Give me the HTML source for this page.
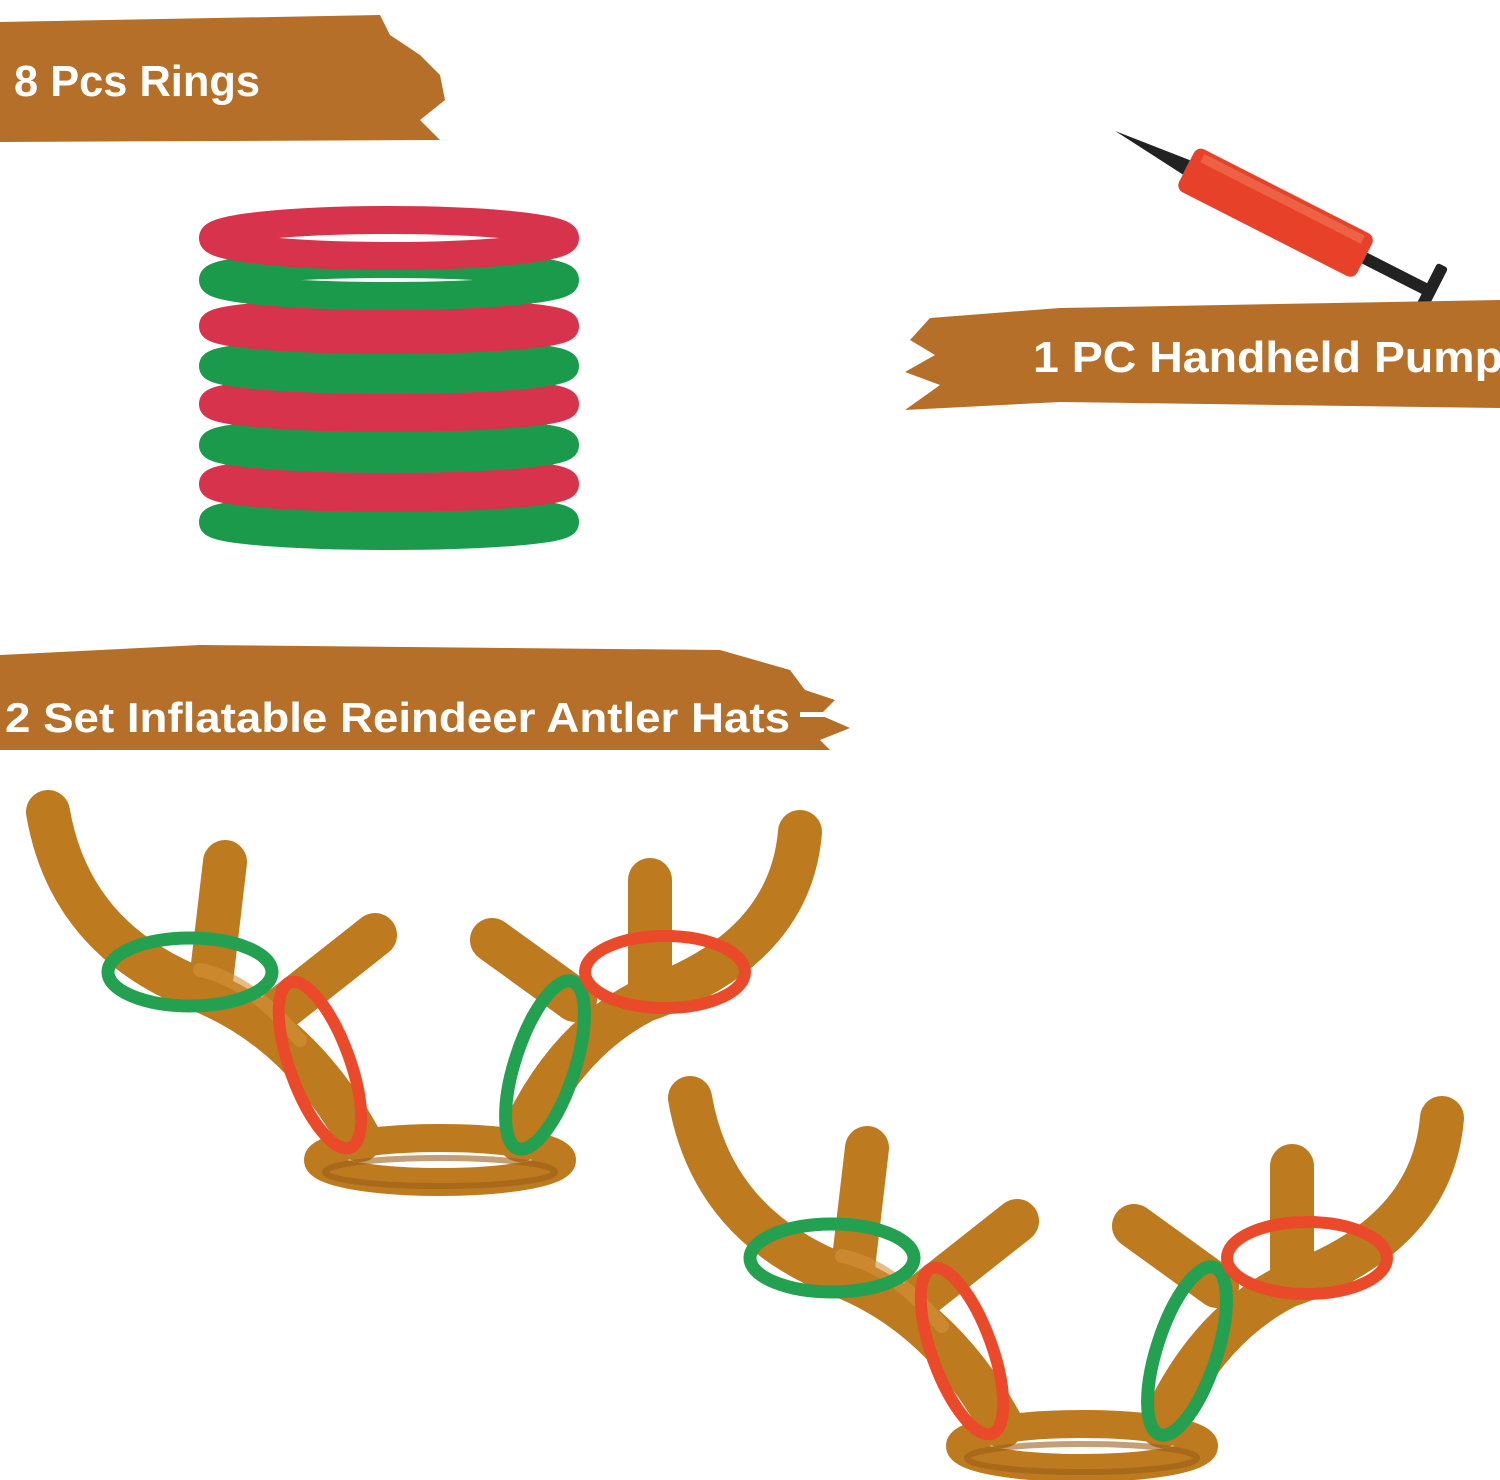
<!DOCTYPE html>
<html><head><meta charset="utf-8"><style>
html,body{margin:0;padding:0;background:#fff;}
svg{display:block;}
text{font-family:"Liberation Sans",sans-serif;font-weight:bold;fill:#fff;}
</style></head><body>
<svg width="1500" height="1480" viewBox="0 0 1500 1480" xmlns="http://www.w3.org/2000/svg">
<defs>
<g id="antler" fill="none" stroke-linecap="round" stroke-linejoin="round">
  <g stroke="#bd7a1f" stroke-width="44">
    <path d="M360 1140 Q300 1030 200 990 Q70 940 48 812"/>
    <path d="M210 990 L225 862"/>
    <path d="M280 1010 L375 935"/>
    <path d="M520 1140 Q565 1040 645 1000 Q790 950 800 832"/>
    <path d="M650 990 L650 880"/>
    <path d="M575 1000 L492 940"/>
  </g>
  <path d="M200 970 Q250 980 300 1040" stroke="#d4913a" stroke-width="14" opacity="0.6"/>
  <ellipse cx="440" cy="1160" rx="122" ry="22" stroke="#bd7a1f" stroke-width="28"/>
  <ellipse cx="440" cy="1172" rx="115" ry="14" stroke="#9a5f18" stroke-width="6" opacity="0.6"/>
  <ellipse cx="190" cy="972" rx="82" ry="34" stroke="#23a150" stroke-width="13"/>
  <ellipse cx="320" cy="1065" rx="30" ry="88" transform="rotate(-20 320 1065)" stroke="#ea4a2a" stroke-width="12"/>
  <ellipse cx="545" cy="1065" rx="30" ry="88" transform="rotate(18 545 1065)" stroke="#23a150" stroke-width="13"/>
  <ellipse cx="665" cy="972" rx="80" ry="36" stroke="#ea4a2a" stroke-width="12"/>
</g>
</defs>

<!-- banner 1 -->
<path d="M0 22 L380 15 L390 35 L420 55 L440 75 L445 100 L420 120 L440 140 L0 142 Z" fill="#b56f28"/>
<text x="14" y="96" font-size="44" textLength="246" lengthAdjust="spacingAndGlyphs">8 Pcs Rings</text>

<!-- rings -->
<g fill="none" stroke-width="28">
  <ellipse cx="389" cy="522" rx="176" ry="14" stroke="#1c9a4c"/>
  <ellipse cx="389" cy="484" rx="176" ry="14" stroke="#d7334c"/>
  <ellipse cx="389" cy="445" rx="176" ry="14" stroke="#1c9a4c"/>
  <ellipse cx="389" cy="404" rx="176" ry="14" stroke="#d7334c"/>
  <ellipse cx="389" cy="366" rx="176" ry="14" stroke="#1c9a4c"/>
  <ellipse cx="389" cy="326" rx="176" ry="14" stroke="#d7334c"/>
  <ellipse cx="389" cy="280" rx="176" ry="16" stroke="#1c9a4c"/>
  <ellipse cx="389" cy="238" rx="176" ry="18" stroke="#d7334c"/>
</g>

<!-- pump -->
<g transform="rotate(27 1280 215)">
  <path d="M1095 215 L1175 207 L1175 223 Z" fill="#222"/>
  <rect x="1175" y="191" width="200" height="48" rx="8" fill="#e8412a"/>
  <rect x="1185" y="195" width="180" height="9" fill="#f07050" opacity="0.7"/>
  <rect x="1375" y="209" width="70" height="12" fill="#222"/>
  <rect x="1442" y="186" width="12" height="58" rx="3" fill="#222"/>
</g>

<!-- banner 2 -->
<path d="M930 318 L1060 308 L1500 300 L1500 408 L1060 402 L905 410 L940 385 L905 372 L935 355 L910 340 Z" fill="#b56f28"/>
<text x="1033" y="372" font-size="44" textLength="470" lengthAdjust="spacingAndGlyphs">1 PC Handheld Pump</text>

<!-- banner 3 -->
<path d="M0 655 L200 645 L720 650 L790 670 L805 690 L835 700 L820 715 L850 728 L820 740 L830 750 L0 750 Z" fill="#b56f28"/>
<text x="5" y="732" font-size="42" textLength="785" lengthAdjust="spacingAndGlyphs">2 Set Inflatable Reindeer Antler Hats</text>
<rect x="800" y="712" width="25" height="5" fill="#fff"/>

<use href="#antler"/>
<use href="#antler" transform="translate(642 286)"/>
</svg>
</body></html>
